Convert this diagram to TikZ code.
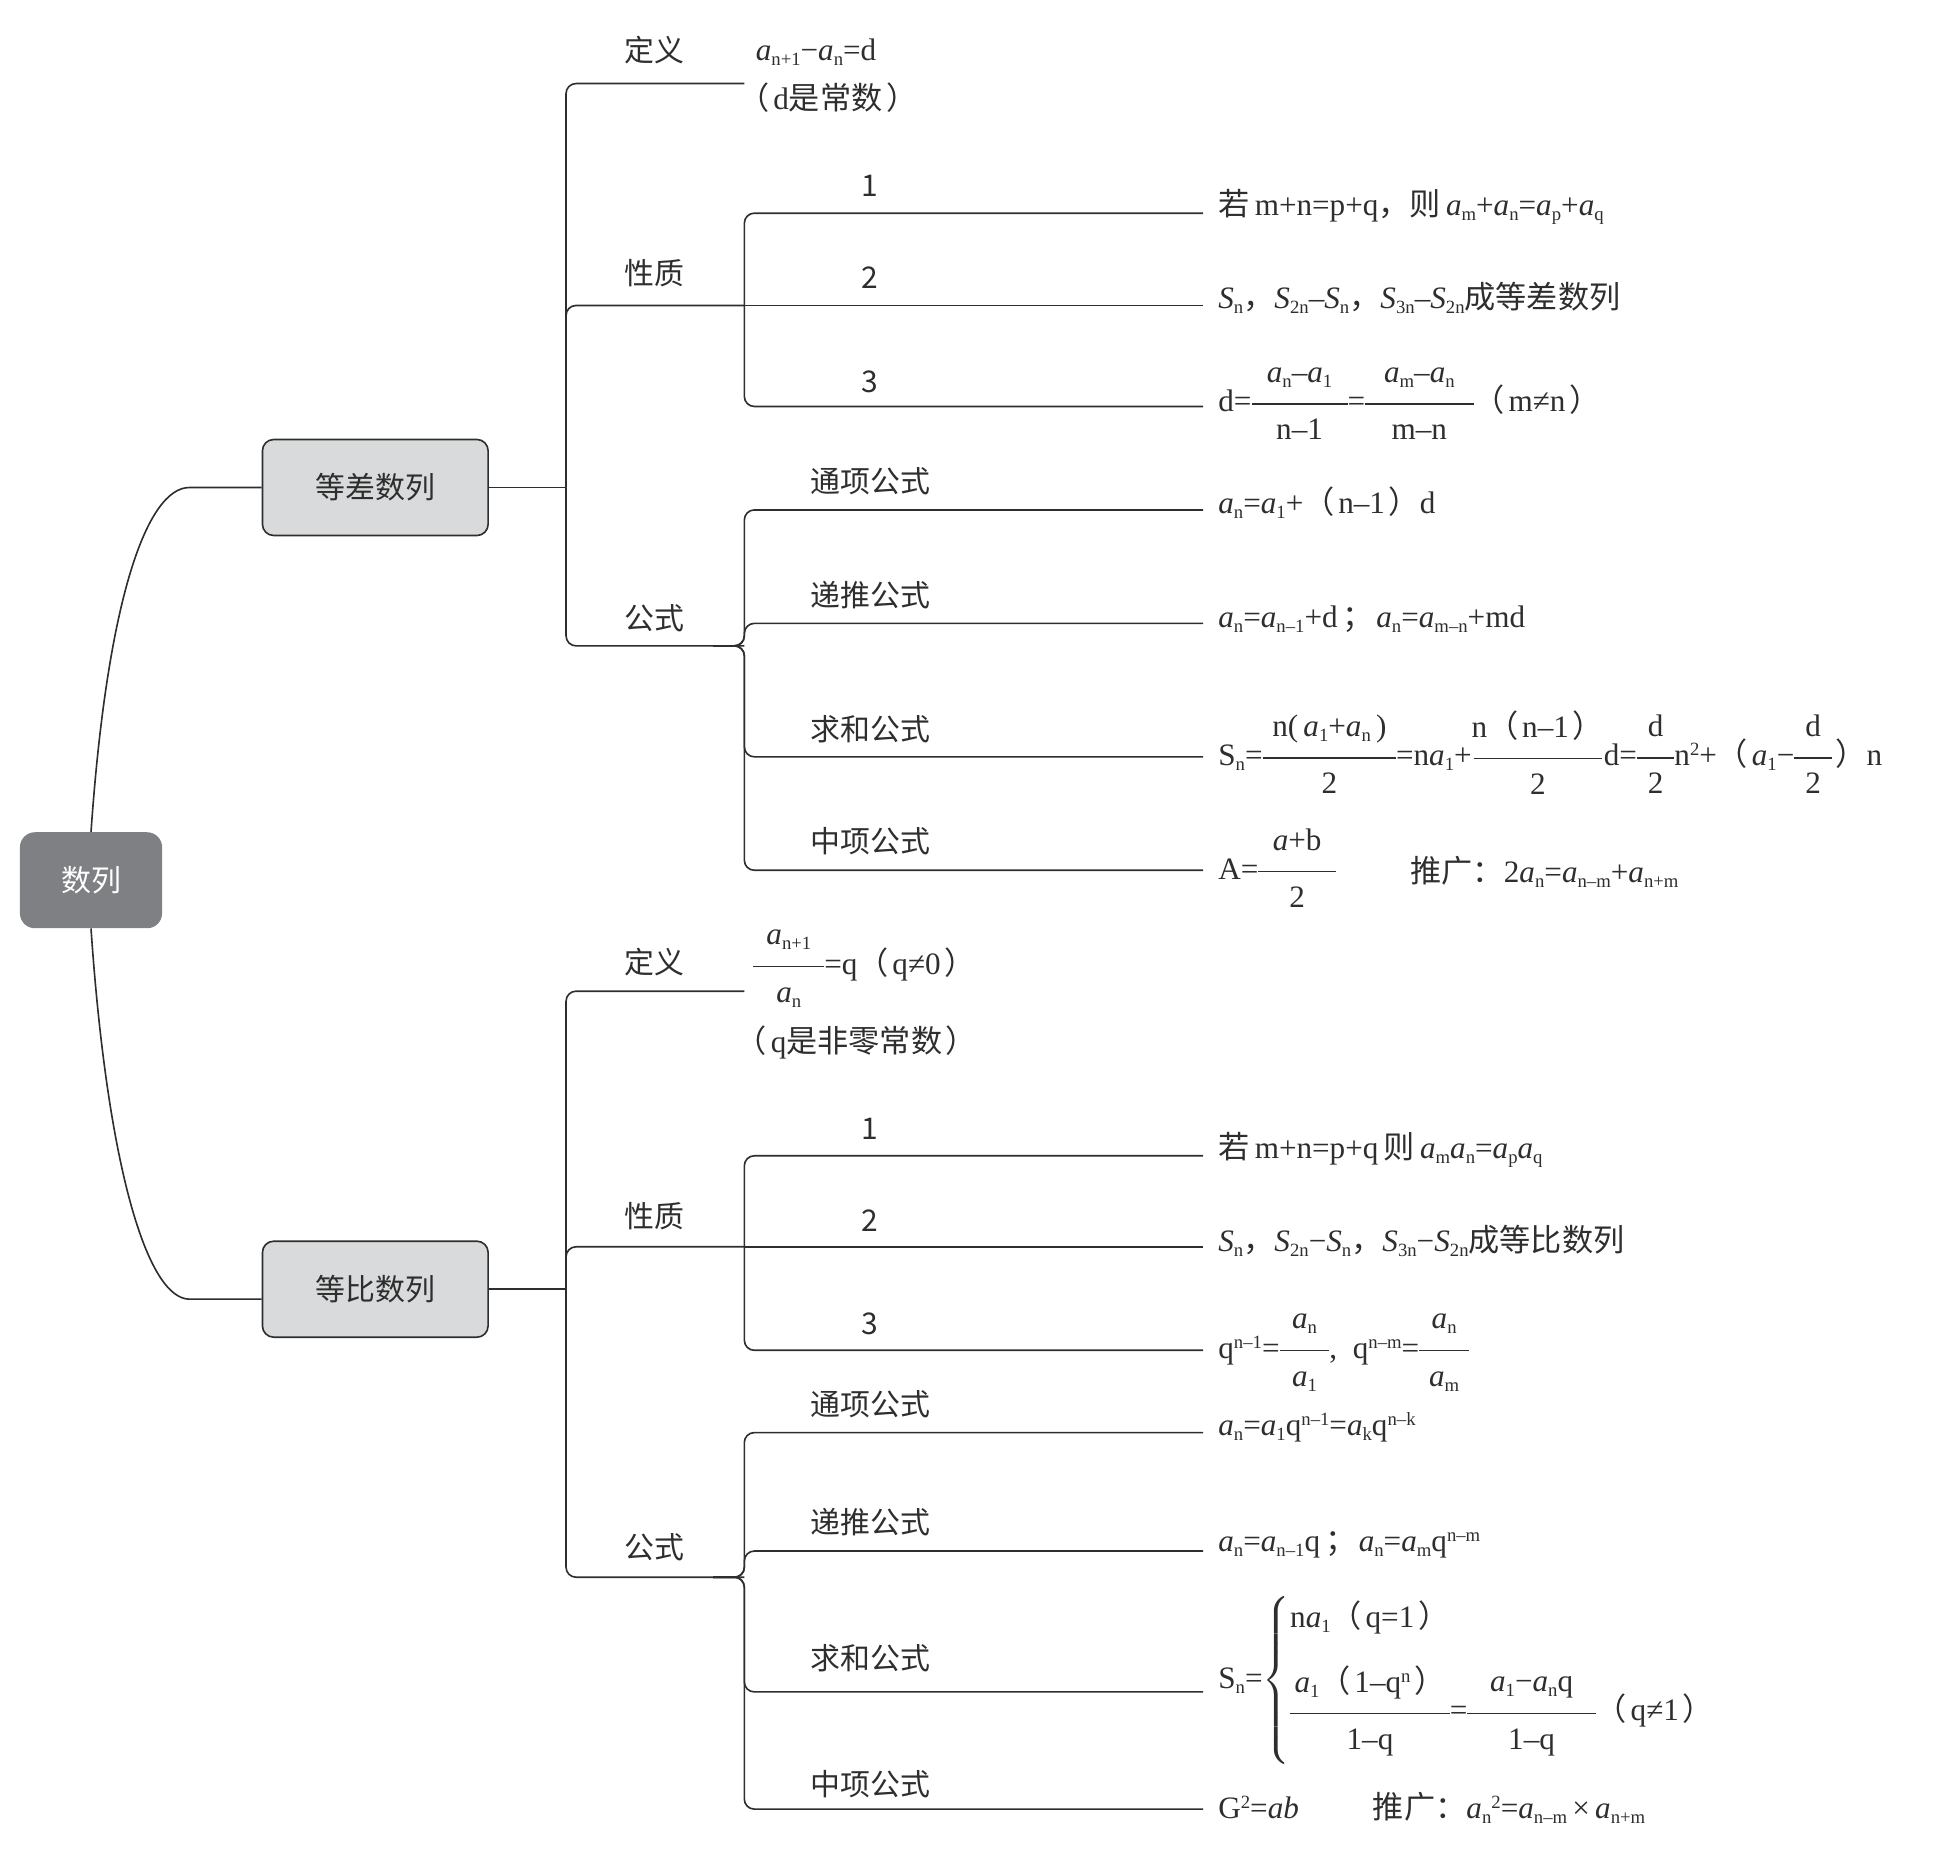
\documentclass[tikz,border=0pt]{standalone}
\usepackage{fontspec}
\usepackage{amsmath}
\usetikzlibrary{calc}
\setmainfont{Liberation Serif}
\newfontfamily\cjk{Noto Sans CJK SC}
\definecolor{ink}{HTML}{2E2E2E}
\definecolor{rootgray}{HTML}{7E8083}
\definecolor{boxgray}{HTML}{D8DADB}
\newcommand\ai{\textit{a}}
\newcommand\Si{\textit{S}}
\newcommand\lo[1]{\raisebox{-0.35ex}{\fontsize{15}{15}\selectfont #1}}
\newcommand\hi[1]{\raisebox{0.7ex}{\fontsize{15}{15}\selectfont #1}}
\newcommand\cj[1]{{\cjk #1}}
\newcommand\lp{{\cjk （}\hspace{3pt}}
\newcommand\rp{\hspace{3pt}{\cjk ）}}
\newcommand\semi{\hspace{4pt}{\cjk ；}\hspace{2pt}}
\newcommand\fr[3]{\ensuremath{\vcenter{\hbox{\vbox{\offinterlineskip\halign{\hfil##\hfil\cr\strut#2\cr\noalign{\kern8pt}\rule{#1}{1pt}\cr\noalign{\kern8pt}\strut#3\cr}}}}}}
\begin{document}
\begin{tikzpicture}[x=1pt,y=-1pt,
 conn/.style={draw=ink,line width=1.3pt,rounded corners=8pt},
 lab/.style={font=\cjk\fontsize{24}{28}\selectfont,text=ink,inner sep=0pt},
 fm/.style={font=\fontsize{25}{29}\selectfont,text=ink,anchor=west,inner sep=0pt},
 rootbox/.style={fill=rootgray,rounded corners=12pt,minimum width=114pt,minimum height=77pt,text=white,font=\cjk\fontsize{24}{28}\selectfont},
 subbox/.style={draw=ink,line width=1.3pt,fill=boxgray,rounded corners=9pt,minimum width=181pt,minimum height=77pt,text=ink,font=\cjk\fontsize{24}{28}\selectfont}]
\useasboundingbox (0,0) rectangle (1560,1501);

% main boxes
\node[rootbox] (root) at (73,706) {数列};
\node[subbox] (A) at (301,391) {等差数列};
\node[subbox] (B) at (301,1034) {等比数列};

\coordinate (Aroot) at (160,391);
\coordinate (Broot) at (160,1042);
\draw[conn] (root.north) .. controls (86,480) and (118,391) .. (Aroot) -- (A.west);
\draw[conn] (root.south) .. controls (86,935) and (118,1042) .. (Broot) -- ($(B.west)+(0,8)$);

% ===== 等差数列 =====
\coordinate (Aj) at (454,391);
\coordinate (Ad) at (597,67);
\coordinate (Axz) at (597,245);
\coordinate (Ag) at (597,518);
\coordinate (Agp) at (572,518);
\coordinate (Ax1) at (965,171);
\coordinate (Ax2) at (965,245);
\coordinate (Ax3) at (965,326);
\coordinate (Ag1) at (965,409);
\coordinate (Ag2) at (965,500);
\coordinate (Ag3) at (965,607);
\coordinate (Ag4) at (965,698);

\draw[conn] (A.east) -- (Aj);
\draw[conn] (Aj) -- (Aj |- Ad) -- (Ad);
\draw[conn] (Aj) -- (Aj |- Axz) -- (Axz);
\draw[conn] (Aj) -- (Aj |- Ag) -- (Ag);
\draw[conn] (Axz) -- (Axz |- Ax1) -- (Ax1);
\draw[conn] (Axz) -- (Ax2);
\draw[conn] (Axz) -- (Axz |- Ax3) -- (Ax3);
\draw[conn] (Agp) -- (Ag) -- (Ag |- Ag1) -- (Ag1);
\draw[conn] (Agp) -- (Ag) -- (Ag |- Ag2) -- (Ag2);
\draw[conn] (Agp) -- (Ag) -- (Ag |- Ag3) -- (Ag3);
\draw[conn] (Agp) -- (Ag) -- (Ag |- Ag4) -- (Ag4);

\node[lab] (lAd) at (525,40) {定义};
\node[lab] (lAx) at (525,219) {性质};
\node[lab] (lAg) at (525,496) {公式};
\node[lab] (lAx1) at (698,149) {1};
\node[lab] (lAx2) at (698,223) {2};
\node[lab] (lAx3) at (698,306) {3};
\node[lab] (lAg1) at (698,386) {通项公式};
\node[lab] (lAg2) at (698,477) {递推公式};
\node[lab] (lAg3) at (698,585) {求和公式};
\node[lab] (lAg4) at (698,675) {中项公式};

\node[fm] (fAd) at (606,42) {\ai\lo{n+1}−\ai\lo{n}=d};
\node[fm] (fAd2) at (592,78) {\lp d\cj{是常数}\rp};
\node[fm] (fAx1) at (977,166) {\cj{若}\,m+n=p+q\cj{，则}\,\ai\lo{m}+\ai\lo{n}=\ai\lo{p}+\ai\lo{q}};
\node[fm] (fAx2) at (977,239) {\Si\lo{n}\cj{，}\Si\lo{2n}–\Si\lo{n}\cj{，}\Si\lo{3n}–\Si\lo{2n}\cj{成等差数列}};
\node[fm] (fAx3) at (977,324) {d=\fr{77pt}{\ai\lo{n}–\ai\lo{1}}{n–1}=\fr{87pt}{\ai\lo{m}–\ai\lo{n}}{m–n}\lp m≠n\rp};
\node[fm] (fAg1) at (977,403) {\ai\lo{n}=\ai\lo{1}+\lp n–1\rp d};
\node[fm] (fAg2) at (977,497) {\ai\lo{n}=\ai\lo{n–1}+d\semi\ai\lo{n}=\ai\lo{m–n}+md};
\node[fm] (fAg3) at (977,608) {S\lo{n}=\fr{107pt}{n(\,\ai\lo{1}+\ai\lo{n}\,)}{2}=n\ai\lo{1}+\fr{103pt}{n\lp n–1\rp}{2}d=\fr{30pt}{d}{2}n\hi{2}+\lp\ai\lo{1}−\fr{30pt}{d}{2}\rp n};
\node[fm] (fAg4) at (977,699) {A=\fr{62pt}{\ai+b}{2}};
\node[fm] (fAg4b) at (1131,699) {\cj{推广：}2\ai\lo{n}=\ai\lo{n–m}+\ai\lo{n+m}};

% ===== 等比数列 =====
\coordinate (Bj) at (454,1034);
\coordinate (Bd) at (597,795);
\coordinate (Bxz) at (597,1000);
\coordinate (Bg) at (597,1265);
\coordinate (Bgp) at (572,1265);
\coordinate (Bx1) at (965,927);
\coordinate (Bx2) at (965,1000);
\coordinate (Bx3) at (965,1083);
\coordinate (Bg1) at (965,1149);
\coordinate (Bg2) at (965,1244);
\coordinate (Bg3) at (965,1357);
\coordinate (Bg4) at (965,1451);

\draw[conn] (B.east) -- (Bj);
\draw[conn] (Bj) -- (Bj |- Bd) -- (Bd);
\draw[conn] (Bj) -- (Bj |- Bxz) -- (Bxz);
\draw[conn] (Bj) -- (Bj |- Bg) -- (Bg);
\draw[conn] (Bxz) -- (Bxz |- Bx1) -- (Bx1);
\draw[conn] (Bxz) -- (Bx2);
\draw[conn] (Bxz) -- (Bxz |- Bx3) -- (Bx3);
\draw[conn] (Bgp) -- (Bg) -- (Bg |- Bg1) -- (Bg1);
\draw[conn] (Bgp) -- (Bg) -- (Bg |- Bg2) -- (Bg2);
\draw[conn] (Bgp) -- (Bg) -- (Bg |- Bg3) -- (Bg3);
\draw[conn] (Bgp) -- (Bg) -- (Bg |- Bg4) -- (Bg4);

\node[lab] (lBd) at (525,772) {定义};
\node[lab] (lBx) at (525,975) {性质};
\node[lab] (lBg) at (525,1241) {公式};
\node[lab] (lBx1) at (698,905) {1};
\node[lab] (lBx2) at (698,979) {2};
\node[lab] (lBx3) at (698,1062) {3};
\node[lab] (lBg1) at (698,1126) {通项公式};
\node[lab] (lBg2) at (698,1221) {递推公式};
\node[lab] (lBg3) at (698,1330) {求和公式};
\node[lab] (lBg4) at (698,1431) {中项公式};

\node[fm] (fBd) at (604,775) {\fr{57pt}{\ai\lo{n+1}}{\ai\lo{n}}=q\lp q≠0\rp};
\node[fm] (fBd2) at (590,836) {\lp q\cj{是非零常数}\rp};
\node[fm] (fBx1) at (977,922) {\cj{若}\,m+n=p+q\,\cj{则}\,\ai\lo{m}\ai\lo{n}=\ai\lo{p}\ai\lo{q}};
\node[fm] (fBx2) at (977,995) {\Si\lo{n}\cj{，}\Si\lo{2n}−\Si\lo{n}\cj{，}\Si\lo{3n}−\Si\lo{2n}\cj{成等比数列}};
\node[fm] (fBx3) at (977,1083) {q\hi{n–1}=\fr{40pt}{\ai\lo{n}}{\ai\lo{1}},\ \ q\hi{n–m}=\fr{40pt}{\ai\lo{n}}{\ai\lo{m}}};
\node[fm] (fBg1) at (977,1145) {\ai\lo{n}=\ai\lo{1}q\hi{n–1}=\ai\lo{k}q\hi{n–k}};
\node[fm] (fBg2) at (977,1239) {\ai\lo{n}=\ai\lo{n–1}q\semi\ai\lo{n}=\ai\lo{m}q\hi{n–m}};
\node[fm] (fBg3) at (977,1348) {S\lo{n}=$\left\{\vcenter{\hbox{\begin{tabular}{@{}l@{}}n\ai\lo{1}\lp q=1\rp\\[22pt]\fr{128pt}{\ai\lo{1}\lp 1–q\hi{n}\rp}{1–q}=\fr{103pt}{\ai\lo{1}−\ai\lo{n}q}{1–q}\lp q≠1\rp\end{tabular}}}\right.$};
\node[fm] (fBg4) at (977,1450) {G\hi{2}=\textit{ab}};
\node[fm] (fBg4b) at (1101,1450) {\cj{推广：}\ai\lo{n}\hi{2}=\ai\lo{n–m}\,×\,\ai\lo{n+m}};
\end{tikzpicture}
\end{document}
